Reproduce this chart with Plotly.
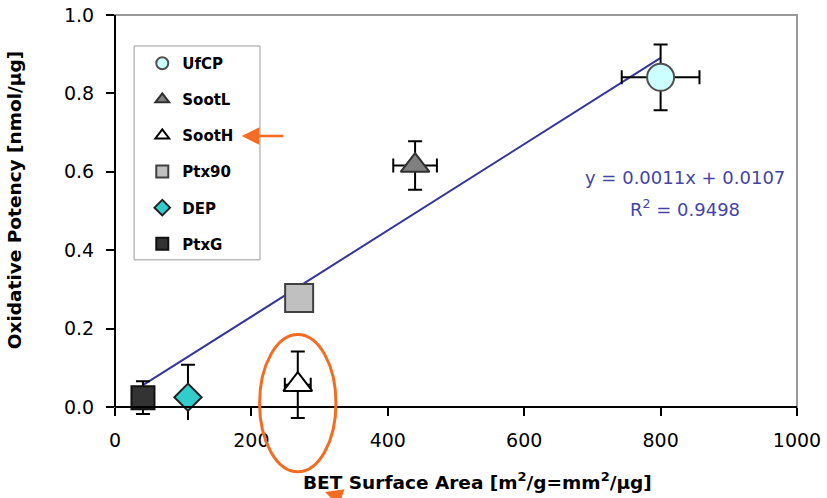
import plotly.graph_objects as go

# Particle samples: BET surface area vs oxidative potency (mean ± error)
names = ["UfCP", "SootL", "SootH", "Ptx90", "DEP", "PtxG"]
bet_area = [800, 440, 268, 270, 107, 41]
bet_err = [57, 32, 19, 0, 0, 0]
potency = [0.841, 0.616, 0.057, 0.278, 0.025, 0.024]
potency_err = [0.084, 0.062, 0.085, 0.0, 0.083, 0.042]

# Linear fit reported on the chart
slope = 0.0011
intercept = 0.0107
r_squared = 0.9498

x_ticks = [0, 200, 400, 600, 800, 1000]
y_ticks = [0.0, 0.2, 0.4, 0.6, 0.8, 1.0]

# Marker styling per sample
symbols = ["circle", "triangle-up", "triangle-up", "square", "diamond", "square"]
fills = ["#ccffff", "#808080", "#ffffff", "#c0c0c0", "#33cccc", "#333333"]
edges = ["#505050", "#303030", "#000000", "#404040", "#202020", "#111111"]
sizes = [27, 25, 25, 28, 21, 23]

# The value axis starts at 0; a small strip below it keeps error bars
# visible down to the clip edge.
X_RANGE = [0, 1000]
Y_RANGE = [-0.033, 1.0]
ORANGE = "#f36c21"
FIT_BLUE = "#35359e"
FONT = "DejaVu Sans"

fig = go.Figure()

# Trend line over the span of the measured samples
fit_x = [min(bet_area), max(bet_area)]
fit_y = [slope * v + intercept for v in fit_x]
fig.add_trace(go.Scatter(
    x=fit_x, y=fit_y, mode="lines", showlegend=False, hoverinfo="skip",
    line=dict(color=FIT_BLUE, width=2),
))

for i, name in enumerate(names):
    fig.add_trace(go.Scatter(
        x=[bet_area[i]], y=[potency[i]], name=name, legendgroup=name,
        mode="markers",
        marker=dict(symbol=symbols[i], size=sizes[i], color=fills[i],
                    line=dict(color=edges[i], width=2)),
        error_x=dict(type="data", array=[bet_err[i]], visible=bet_err[i] > 0,
                     color="black", thickness=2, width=7),
        error_y=dict(type="data", array=[potency_err[i]],
                     visible=potency_err[i] > 0,
                     color="black", thickness=2, width=7),
    ))


def px(v):
    return (v - X_RANGE[0]) / (X_RANGE[1] - X_RANGE[0])


def py(v):
    return (v - Y_RANGE[0]) / (Y_RANGE[1] - Y_RANGE[0])


y_zero = py(0)

shapes = [
    # plot frame (top/right edges grey)
    dict(type="rect", xref="paper", yref="paper", x0=0, x1=1, y0=y_zero, y1=1,
         line=dict(color="#9a9a9a", width=2), layer="below"),
    # value axis line, from 0 up to the top
    dict(type="line", xref="paper", yref="paper", x0=0, x1=0, y0=y_zero, y1=1,
         line=dict(color="black", width=2)),
    # legend box
    dict(type="rect", xref="paper", yref="paper", x0=0.028, x1=0.2126,
         y0=0.3954, y1=0.9235, line=dict(color="#9a9a9a", width=1),
         fillcolor="white", layer="below"),
    # highlight ring around SootH
    dict(type="circle", xref="paper", yref="paper",
         x0=px(bet_area[2] - 56), x1=px(bet_area[2] + 56),
         y0=py(potency[2] - 0.222), y1=py(potency[2] + 0.128),
         line=dict(color=ORANGE, width=3)),
]

eq_text = f"y = {slope}x + {intercept}"
r2_text = f"R<sup>2</sup> = {r_squared}"

annotations = [
    dict(text=eq_text, xref="paper", yref="paper", x=0.836, y=0.598,
         showarrow=False, xanchor="center", yanchor="middle",
         font=dict(family=FONT, size=18, color="#4444a8")),
    dict(text=r2_text, xref="paper", yref="paper", x=0.836, y=0.524,
         showarrow=False, xanchor="center", yanchor="middle",
         font=dict(family=FONT, size=18, color="#4444a8")),
    dict(text="Oxidative Potency [nmol/µg]", xref="paper", yref="paper",
         x=-0.148, y=0.543, textangle=-90, showarrow=False,
         xanchor="center", yanchor="middle",
         font=dict(family=FONT, size=18.5, color="black", weight="bold")),
    dict(text="BET Surface Area [m<sup>2</sup>/g=mm<sup>2</sup>/µg]",
         xref="paper", yref="paper", x=0.531, y=-0.150, showarrow=False,
         xanchor="center", yanchor="middle",
         font=dict(family=FONT, size=18.5, color="black", weight="bold")),
    # arrow pointing at the SootH legend entry
    dict(text="", xref="paper", yref="paper", x=0.186, y=0.701,
         ax=43, ay=0, showarrow=True, arrowhead=2, arrowsize=1.4,
         arrowwidth=2.5, arrowcolor=ORANGE),
    # arrow pointing up at the highlighted sample
    dict(text="", xref="paper", yref="paper", x=0.308, y=-0.178,
         ax=18, ay=30, showarrow=True, arrowhead=2, arrowsize=1.4,
         arrowwidth=2.5, arrowcolor=ORANGE),
]

fig.update_layout(
    width=827, height=498,
    margin=dict(l=115, r=30, t=15, b=78, autoexpand=False),
    paper_bgcolor="white", plot_bgcolor="white",
    font=dict(family=FONT, color="black"),
    showlegend=True,
    legend=dict(x=0.04, y=0.921, xanchor="left", yanchor="top",
                bgcolor="rgba(0,0,0,0)", borderwidth=0,
                font=dict(family=FONT, size=15, color="black", weight="bold"),
                itemsizing="constant", tracegroupgap=13.6, traceorder="grouped"),
    xaxis=dict(range=X_RANGE, tickvals=x_ticks, ticks="outside", ticklen=8,
               tickwidth=1.5, tickcolor="black", showline=True,
               linecolor="black", linewidth=2, showgrid=False, zeroline=False,
               anchor="free", position=y_zero, automargin=False,
               tickfont=dict(family=FONT, size=19), ticklabelstandoff=8),
    yaxis=dict(range=Y_RANGE, tickvals=y_ticks, tickformat=".1f",
               ticks="outside", ticklen=8, tickwidth=1.5, tickcolor="black",
               showline=False, showgrid=False, zeroline=False, automargin=False,
               tickfont=dict(family=FONT, size=19), ticklabelstandoff=8),
    shapes=shapes,
    annotations=annotations,
)

fig.write_html("out.html")
